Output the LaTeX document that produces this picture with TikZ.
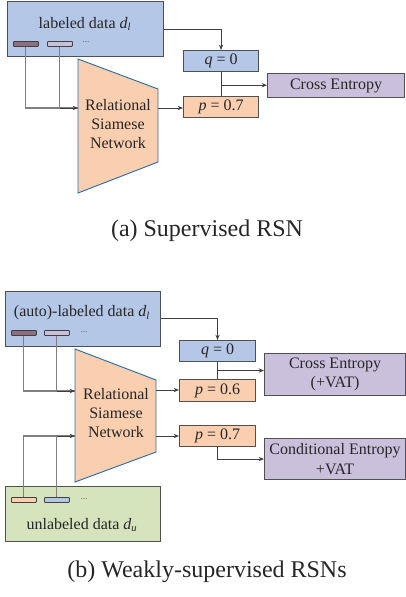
\documentclass[tikz,border=0pt]{standalone}
\usepackage{fontspec}
\setmainfont{Liberation Serif}
\usetikzlibrary{arrows.meta,positioning,calc}

\definecolor{bluebg}{HTML}{B4C7E7}
\definecolor{orangebg}{HTML}{F9CFB0}
\definecolor{purplebg}{HTML}{CBC0DC}
\definecolor{greenbg}{HTML}{D6E4BE}
\definecolor{boxline}{HTML}{505050}
\definecolor{trapline}{HTML}{2E6DA8}
\definecolor{mauve}{HTML}{8E6F80}

\tikzset{
  box/.style={draw=boxline, line width=0.8pt, inner sep=0pt, anchor=north west},
  bar/.style={draw=black!75, line width=0.6pt, rounded corners=0.6pt, inner sep=0pt,
    anchor=north west, minimum width=25*0.75pt, minimum height=5*0.75pt},
  txt/.style={font=\fontsize{12}{14.5}\selectfont, text=black!85, align=center, inner sep=0pt},
  dots/.style={font=\scriptsize, text=black!60, inner sep=0pt},
  feed/.style={draw=black!50, line width=0.8pt},
  link/.style={draw=black!75, line width=0.7pt, -{Stealth[length=4pt,width=3.2pt]}},
  caption/.style={font=\fontsize{18}{21}\selectfont, text=black!85, inner sep=0pt}
}

\begin{document}
\begin{tikzpicture}[x=0.75pt,y=-0.75pt]
  \useasboundingbox (0,0) rectangle (406,597);

  % (a) supervised
  \node[box, fill=bluebg, minimum width=156*0.75pt, minimum height=55*0.75pt] (dataA) at (7,1) {};
  \node[txt] (dataAlbl) at (85,24) {labeled data \textit{d}\textsubscript{\textit{l}}};
  \node[bar, fill=mauve] (barA1) at (13,41) {};
  \node[bar, fill=purplebg] (barA2) at (47,41) {};
  \node[dots] (dotsA) at (86,42) {...};

  \path[draw=trapline, line width=0.7pt, fill=orangebg]
    (78,59) -- (158,89) -- (158,162) -- (78,193) -- cycle;
  \node[txt] (rsnA) at (118,124) {Relational\\Siamese\\Network};
  \coordinate (inA) at (78,108);
  \coordinate (outA) at (158,108);

  \node[box, fill=bluebg, minimum width=75*0.75pt, minimum height=21*0.75pt] (qA) at (183,50) {};
  \node[txt] at (qA.center) {\textit{q} = 0};
  \node[box, fill=orangebg, minimum width=75*0.75pt, minimum height=21*0.75pt] (pA) at (183,96) {};
  \node[txt] at (pA.center) {\textit{p} = 0.7};
  \node[box, fill=purplebg, minimum width=137*0.75pt, minimum height=24*0.75pt] (ceA) at (267,73) {};
  \node[txt] at (ceA.center) {Cross Entropy};

  \draw[feed] (barA1.south) |- (inA);
  \draw[feed] (barA2.south) -- (barA2.south |- inA);
  \draw[link] (barA2.south |- inA) -- (inA);
  \draw[link] (outA) -- (outA -| pA.west);
  \draw[link] (dataA.east |- 0,29) -| (qA.north);
  \draw[draw=black!75, line width=0.7pt] (qA.south) -- (pA.north);
  \coordinate (jA) at ($(qA.south)!0.55!(pA.north)$);
  \draw[link] (jA) -- (jA -| ceA.west);

  \node[caption] (capA) at (207,231) {(a) Supervised RSN};

  % (b) weakly-supervised
  \node[box, fill=bluebg, minimum width=155*0.75pt, minimum height=55*0.75pt] (dataB) at (5,291) {};
  \node[txt] (dataBlbl) at (82,313) {(auto)-labeled data \textit{d}\textsubscript{\textit{l}}};
  \node[bar, fill=mauve] (barB1) at (11,330) {};
  \node[bar, fill=purplebg] (barB2) at (44,330) {};
  \node[dots] (dotsB) at (84,332) {...};

  \node[box, fill=greenbg, minimum width=155*0.75pt, minimum height=55*0.75pt] (unlB) at (5,486) {};
  \node[txt] (unlBlbl) at (82,525) {unlabeled data \textit{d}\textsubscript{\textit{u}}};
  \node[bar, fill=orangebg] (barU1) at (11,497) {};
  \node[bar, fill=bluebg] (barU2) at (44,497) {};
  \node[dots] (dotsU) at (84,499) {...};

  \path[draw=trapline, line width=0.7pt, fill=orangebg]
    (75,349) -- (156,380) -- (156,452) -- (75,482) -- cycle;
  \node[txt] (rsnB) at (116,413) {Relational\\Siamese\\Network};
  \coordinate (inB1) at (75,391);
  \coordinate (inB2) at (75,436);
  \coordinate (outB1) at (156,390);
  \coordinate (outB2) at (156,436);

  \node[box, fill=bluebg, minimum width=76*0.75pt, minimum height=21*0.75pt] (qB) at (179,340) {};
  \node[txt] at (qB.center) {\textit{q} = 0};
  \node[box, fill=orangebg, minimum width=76*0.75pt, minimum height=22*0.75pt] (pB1) at (179,379) {};
  \node[txt] at (pB1.center) {\textit{p} = 0.6};
  \node[box, fill=orangebg, minimum width=76*0.75pt, minimum height=21*0.75pt] (pB2) at (179,425) {};
  \node[txt] at (pB2.center) {\textit{p} = 0.7};
  \node[box, fill=purplebg, minimum width=141*0.75pt, minimum height=42*0.75pt] (ceB) at (264,353) {};
  \node[txt] at (ceB.center) {Cross Entropy\\(+VAT)};
  \node[box, fill=purplebg, minimum width=141*0.75pt, minimum height=41*0.75pt] (condB) at (264,438) {};
  \node[txt] at (condB.center) {Conditional Entropy\\+VAT};

  \draw[feed] (barB1.south) |- (inB1);
  \draw[feed] (barB2.south) -- (barB2.south |- inB1);
  \draw[link] (barB2.south |- inB1) -- (inB1);
  \draw[feed] (barU1.north) |- (inB2);
  \draw[feed] (barU2.north) -- (barU2.north |- inB2);
  \draw[link] (barU2.north |- inB2) -- (inB2);

  \draw[link] (outB1) -- (outB1 -| pB1.west);
  \draw[link] (outB2) -- (outB2 -| pB2.west);
  \draw[link] (dataB.east |- 0,318) -| (qB.north);
  \draw[draw=black!75, line width=0.7pt] (qB.south) -- (pB1.north);
  \coordinate (jB) at ($(qB.south)!0.5!(pB1.north)$);
  \draw[link] (jB) -- (jB -| ceB.west);
  \draw[link] (pB2.south) |- (condB.west);

  \node[caption] (capB) at (207,572) {(b) Weakly-supervised RSNs};
\end{tikzpicture}
\end{document}
